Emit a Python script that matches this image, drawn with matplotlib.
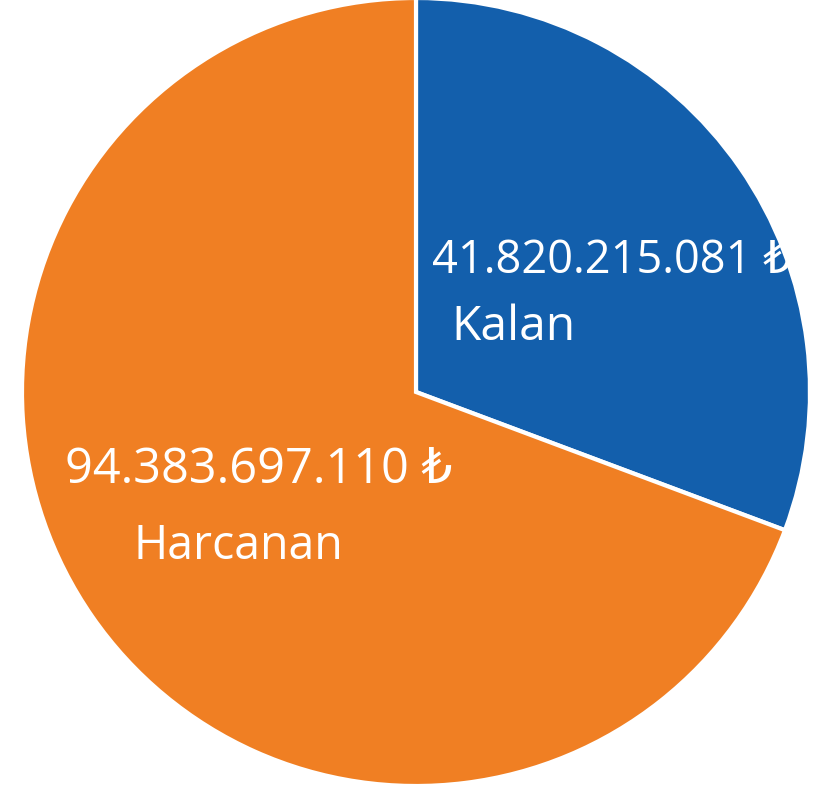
import matplotlib.pyplot as plt

labels = ['Kalan', 'Harcanan']
values = [41820215081, 94383697110]
amounts = ['41.820.215.081 ₺', '94.383.697.110 ₺']
colors = ['#135fac', '#f07f23']

W, H = 839, 794
fig = plt.figure(figsize=(W / 100, H / 100), dpi=100)
ax = fig.add_axes([0, 0, 1, 1])

# pie drawn in pixel-like data units
ax.pie(values, colors=colors, startangle=90, counterclock=False,
       center=(416, H - 392), radius=394,
       wedgeprops=dict(edgecolor='white', linewidth=3))
ax.set_xlim(0, W)
ax.set_ylim(0, H)
ax.set_aspect('equal')
ax.axis('off')

fam = ['Open Sans', 'DejaVu Sans']
ax.text(432, H - 273, amounts[0], color='white', fontsize=32.5, family=fam,
        ha='left', va='baseline')
ax.text(451, H - 340, labels[0], color='white', fontsize=34.5, family=fam,
        ha='left', va='baseline')
ax.text(65, H - 483, amounts[1], color='white', fontsize=35, family=fam,
        ha='left', va='baseline')
ax.text(134, H - 559, labels[1], color='white', fontsize=33.5, family=fam,
        ha='left', va='baseline')

fig.savefig('out.png', dpi=100, facecolor='white')
